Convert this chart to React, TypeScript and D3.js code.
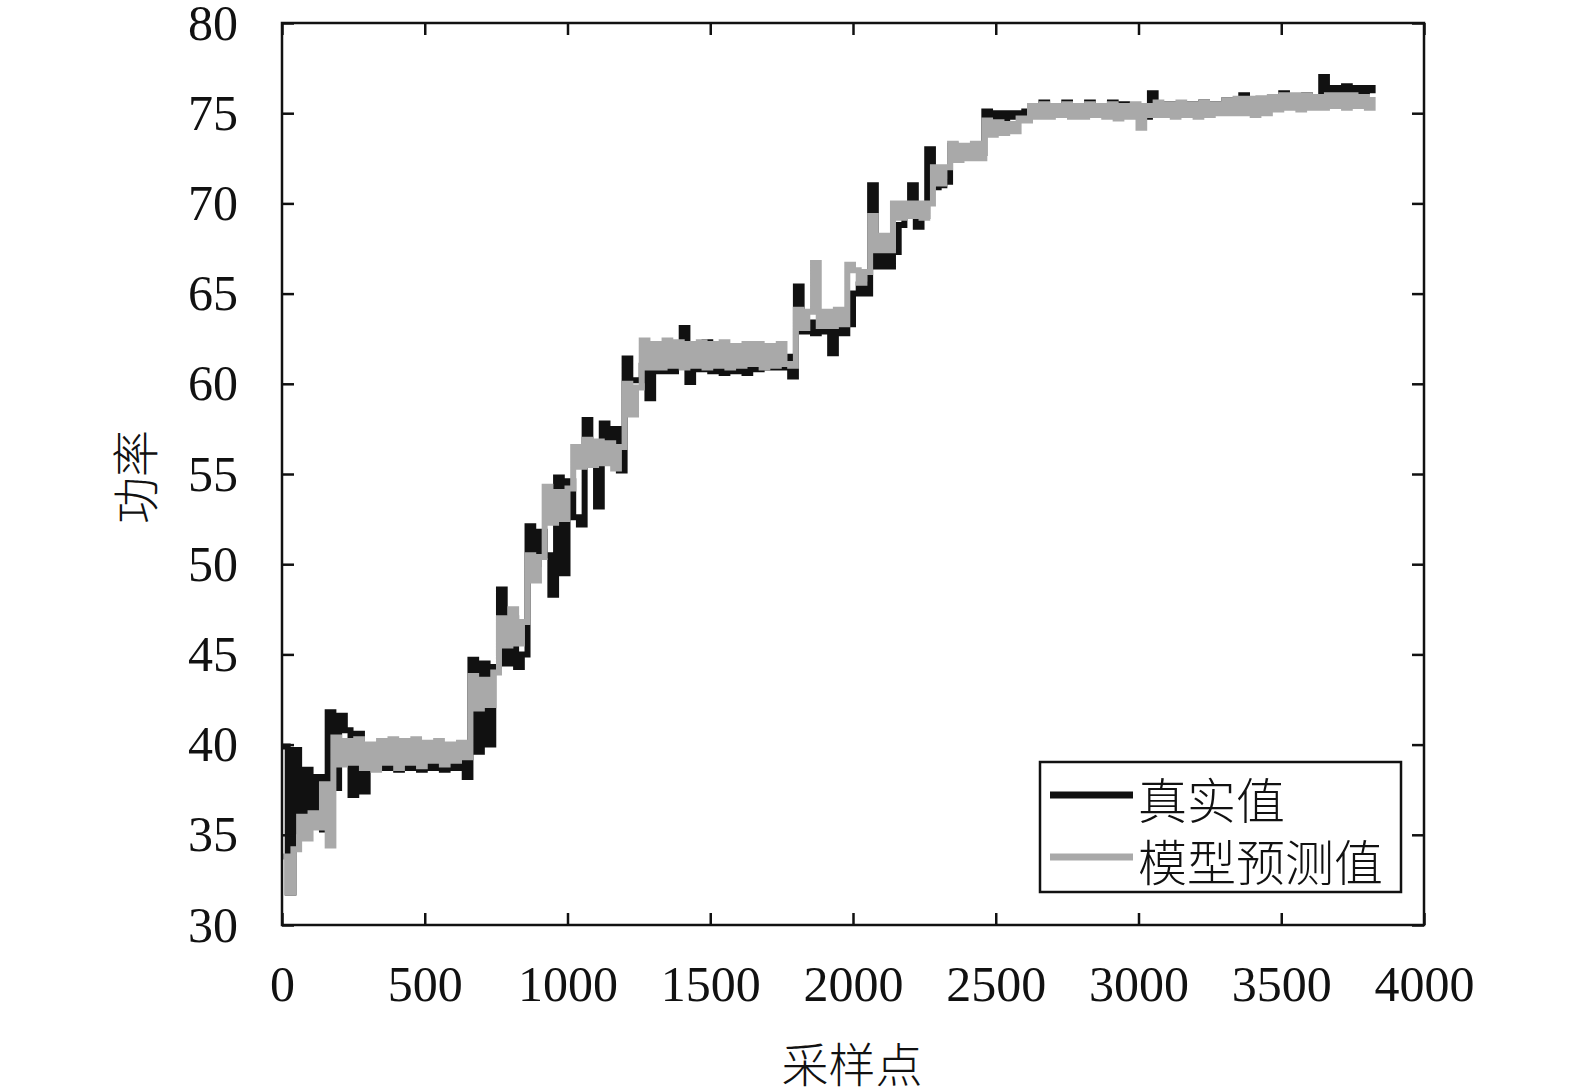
import { useEffect, useRef } from 'react';
import * as d3 from 'd3';

// one value every SAMPLE_STEP samples (step plot)
const SAMPLE_STEP = 20;

const realValues = [
  39.9, 31.8, 39.7, 35.2, 38.6, 35.7, 38.2, 35.3, 41.8, 37.6,
  41.6, 40.8, 37.2, 40.6, 37.4, 39.6, 38.7, 39.5, 38.7, 39.4,
  38.6, 39.6, 38.7, 39.5, 38.6, 39.4, 38.7, 39.5, 38.6, 39.5,
  38.7, 39.4, 38.2, 44.7, 39.6, 44.5, 40.0, 44.3, 48.6, 44.5,
  47.0, 44.3, 45.0, 52.1, 50.0, 51.8, 50.5, 48.3, 54.8, 49.5,
  54.6, 52.6, 52.2, 58.0, 56.7, 53.2, 57.8, 56.8, 57.5, 55.2,
  61.4, 60.2, 60.2, 61.0, 59.2, 61.2, 60.7, 62.0, 60.7, 61.8,
  63.1, 60.1, 61.6, 60.8, 62.3, 60.7, 61.5, 60.6, 61.5, 60.7,
  61.6, 60.6, 61.6, 60.8, 61.5, 60.9, 61.6, 60.9, 61.5, 60.4,
  65.4, 62.9, 63.4, 62.8, 63.4, 62.9, 61.7, 63.3, 62.8, 63.3,
  65.0, 65.5, 65.0, 71.0, 66.5, 67.2, 66.5, 67.3, 68.8, 69.4,
  71.0, 68.7, 69.3, 73.0, 70.9, 71.0, 71.2, 73.2, 72.8, 73.1,
  72.8, 73.1, 72.8, 75.1, 74.7, 75.0, 74.7, 75.0, 74.8, 75.0,
  75.1, 75.3, 75.0, 75.6, 75.1, 75.4, 75.2, 75.6, 75.1, 75.4,
  75.0, 75.6, 75.2, 75.4, 75.1, 75.6, 75.2, 75.5, 75.1, 75.4,
  75.2, 74.8, 76.1, 75.5, 75.2, 75.5, 75.3, 75.5, 75.2, 75.5,
  75.3, 75.6, 75.3, 75.5, 75.4, 75.7, 75.5, 75.7, 76.0, 75.6,
  75.5, 75.8, 75.6, 75.8, 75.7, 76.1, 75.6, 75.9, 75.7, 76.0,
  75.7, 75.9, 77.0, 76.2, 76.4, 76.1, 76.5, 76.1, 76.4, 76.2,
  76.4, 76.1,
];

const predictedValues = [
  33.8, 31.8, 34.2, 36.0, 34.8, 36.2, 35.4, 37.8, 34.4, 40.4,
  38.9, 40.2, 39.0, 40.3, 38.7, 40.0, 38.6, 40.2, 39.0, 40.3,
  38.7, 40.2, 39.0, 40.3, 38.8, 40.1, 39.1, 40.2, 38.9, 40.0,
  39.1, 40.1, 39.3, 43.8, 42.0, 43.6, 42.2, 44.0, 47.0, 45.5,
  47.5, 45.6, 46.8, 50.5, 49.1, 50.4, 54.3, 52.3, 54.0, 52.5,
  54.2, 56.5, 55.4, 56.9, 55.5, 56.8, 55.6, 56.7, 55.3, 56.5,
  60.0, 58.3, 59.8, 62.4, 60.9, 62.2, 60.9, 62.4, 61.0, 62.3,
  60.9, 62.2, 61.0, 62.3, 60.9, 62.2, 61.0, 62.3, 60.9, 62.1,
  61.0, 62.2, 61.1, 62.2, 60.9, 62.1, 61.0, 62.2, 61.1, 61.0,
  64.1, 63.1, 64.0, 66.7, 63.2, 64.0, 63.2, 64.1, 63.3, 66.6,
  66.3, 65.6, 66.2, 69.3, 67.4, 68.2, 67.4, 70.0, 69.2, 70.0,
  69.3, 70.0, 69.2, 70.0, 72.0, 71.1, 72.0, 73.3, 72.4, 73.2,
  72.5, 73.3, 72.5, 74.6, 73.8, 74.5, 73.9, 74.4, 74.0, 74.7,
  74.6, 75.4, 74.8, 75.5, 74.8, 75.4, 74.9, 75.5, 74.8, 75.4,
  74.8, 75.5, 74.9, 75.4, 74.8, 75.5, 74.7, 75.4, 74.8, 75.5,
  74.2, 75.4, 74.9, 75.6, 74.9, 75.5, 74.8, 75.6, 74.9, 75.5,
  74.8, 75.6, 74.9, 75.5, 75.0, 75.7, 75.0, 75.8, 75.0, 75.8,
  74.9, 75.8, 75.0, 75.9, 75.2, 76.0, 75.3, 76.0, 75.2, 76.0,
  75.3, 75.9, 75.3, 76.0, 75.4, 76.0, 75.3, 76.0, 75.4, 75.9,
  75.3, 75.9,
];

const xTicks = [0, 500, 1000, 1500, 2000, 2500, 3000, 3500, 4000];
const yTicks = [30, 35, 40, 45, 50, 55, 60, 65, 70, 75, 80];
const seriesNames = ['真实值', '模型预测值'];
const seriesColors = ['#111111', '#a9a9a9'];
const xLabel = '采样点';
const yLabel = '功率';

const NUM_FONT = "'Liberation Serif', 'Times New Roman', serif";
const CJK_FONT = "'Noto Sans CJK SC', sans-serif";

export default function App() {
  const ref = useRef<SVGSVGElement | null>(null);

  useEffect(() => {
    if (!ref.current) return;
    const svg = d3.select(ref.current);
    svg.selectAll('*').remove();

    const W = 1575;
    const H = 1091;
    const margin = { top: 23, right: 151, bottom: 166, left: 282 };
    const width = W - margin.left - margin.right;
    const height = H - margin.top - margin.bottom;

    svg.append('rect').attr('width', W).attr('height', H).attr('fill', '#fff');

    const x = d3.scaleLinear().domain([0, 4000]).range([0, width]);
    const y = d3.scaleLinear().domain([30, 80]).range([height, 0]);

    const g = svg.append('g').attr('transform', `translate(${margin.left},${margin.top})`);

    const line = d3
      .line<number>()
      .x((_, i) => x(i * SAMPLE_STEP))
      .y(d => y(d))
      .curve(d3.curveStepAfter);

    // real values underneath, prediction drawn on top
    [realValues, predictedValues].forEach((vals, k) => {
      g.append('path')
        .datum(vals)
        .attr('fill', 'none')
        .attr('stroke', seriesColors[k])
        .attr('stroke-width', 6)
        .attr('d', line);
    });

    const styleAxis = (sel: d3.Selection<SVGGElement, unknown, null, undefined>, labels: boolean) => {
      sel.select('.domain').remove();
      sel.selectAll('.tick line').attr('stroke', '#111').attr('stroke-width', 2.5);
      sel
        .selectAll('.tick text')
        .attr('fill', '#111')
        .attr('font-family', NUM_FONT)
        .style('font-family', NUM_FONT)
        .style('font-size', '50px')
        .style('display', labels ? null : 'none');
    };

    g.append('g')
      .attr('transform', `translate(0,${height})`)
      .call(d3.axisBottom(x).tickValues(xTicks).tickSize(-12).tickPadding(40).tickFormat(d3.format('d')))
      .call(s => styleAxis(s, true));
    g.append('g')
      .call(d3.axisTop(x).tickValues(xTicks).tickSize(-12))
      .call(s => styleAxis(s, false));
    g.append('g')
      .call(d3.axisLeft(y).tickValues(yTicks).tickSize(-12).tickPadding(44).tickFormat(d3.format('d')))
      .call(s => styleAxis(s, true));
    g.append('g')
      .attr('transform', `translate(${width},0)`)
      .call(d3.axisRight(y).tickValues(yTicks).tickSize(-12))
      .call(s => styleAxis(s, false));

    g.append('rect')
      .attr('width', width)
      .attr('height', height)
      .attr('fill', 'none')
      .attr('stroke', '#111')
      .attr('stroke-width', 2.5);

    // axis titles
    svg
      .append('text')
      .attr('x', 852)
      .attr('y', 1061)
      .attr('text-anchor', 'middle')
      .attr('dominant-baseline', 'central')
      .style('font-family', CJK_FONT)
      .style('font-size', '47px')
      .style('font-weight', 300)
      .attr('fill', '#111')
      .text(xLabel);
    svg
      .append('text')
      .attr('transform', 'translate(132,477) rotate(-90)')
      .attr('text-anchor', 'middle')
      .attr('dominant-baseline', 'central')
      .style('font-family', CJK_FONT)
      .style('font-size', '47px')
      .style('font-weight', 300)
      .attr('fill', '#111')
      .text(yLabel);

    // legend
    const lg = svg.append('g').attr('transform', 'translate(1040,762)');
    lg.append('rect')
      .attr('width', 361)
      .attr('height', 130)
      .attr('fill', '#fff')
      .attr('stroke', '#111')
      .attr('stroke-width', 2.5);
    seriesNames.forEach((name, k) => {
      const cy = 33 + k * 62;
      lg.append('line')
        .attr('x1', 10)
        .attr('x2', 93)
        .attr('y1', cy)
        .attr('y2', cy)
        .attr('stroke', seriesColors[k])
        .attr('stroke-width', 7);
      lg.append('text')
        .attr('x', 98)
        .attr('y', cy + 2)
        .attr('dominant-baseline', 'central')
        .style('font-family', CJK_FONT)
        .style('font-size', '49px')
        .style('font-weight', 300)
        .attr('fill', '#111')
        .text(name);
    });
  }, []);

  return (
    <svg
      ref={ref}
      width={1575}
      height={1091}
      style={{ position: 'absolute', left: 0, top: 0 }}
    ></svg>
  );
}
